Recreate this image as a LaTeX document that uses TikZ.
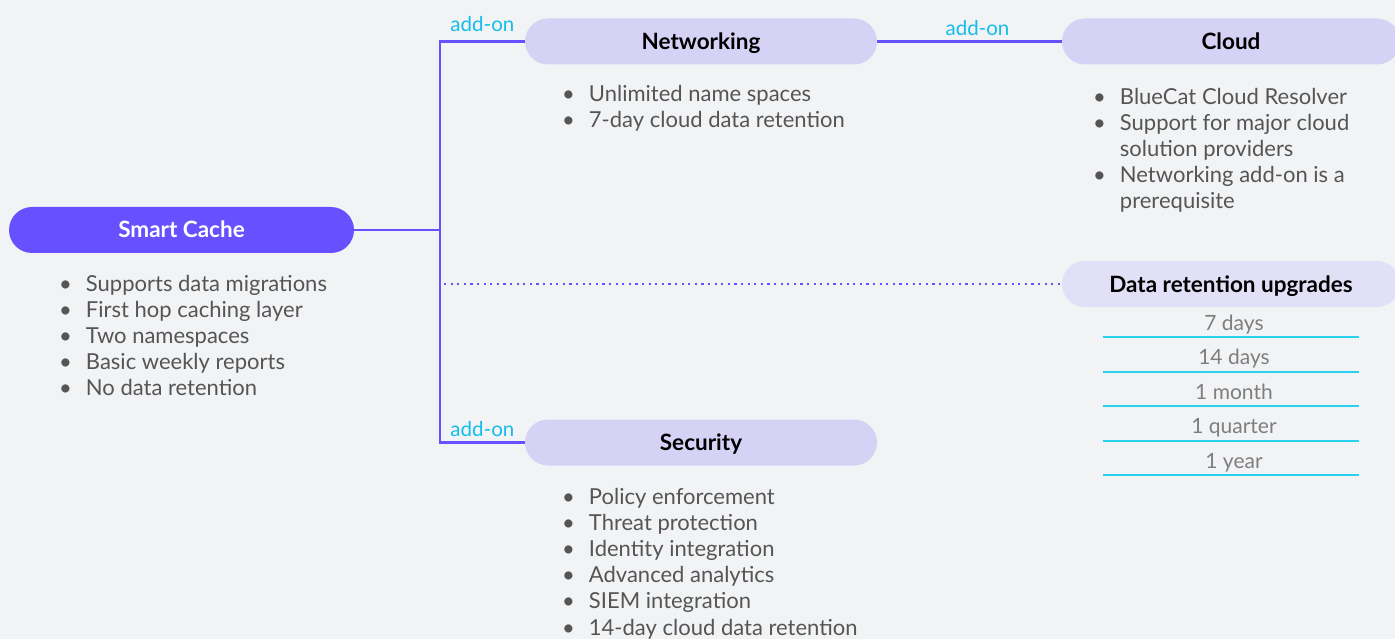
\documentclass[tikz,border=0pt]{standalone}
\usepackage{fontspec}
\setmainfont{Lato}
\usepackage{xcolor}
\definecolor{bgc}{HTML}{F2F3F5}
\definecolor{brand}{HTML}{6650FF}
\definecolor{lilac}{HTML}{D6D2F6}
\definecolor{lilacl}{HTML}{E2E0F6}
\definecolor{addonc}{HTML}{14BDEB}
\definecolor{txt}{HTML}{555555}
\definecolor{rowtxt}{HTML}{7E7E7E}
\definecolor{rowln}{HTML}{2AD0F0}
\newcommand\itm{\textbullet\hspace{14pt}}
\newcommand\itmc{\hphantom{\textbullet}\hspace{14pt}}

\begin{document}
\begin{tikzpicture}[x=1pt,y=-1pt,
  pill/.style={rectangle,rounded corners=23pt,minimum height=46pt,inner sep=0pt,text height=16pt,text depth=0pt,font=\bfseries\fontsize{22.5}{26}\selectfont},
  link/.style={draw=brand,line width=2.6pt},
  addon/.style={above,inner sep=5pt,text=addonc,font=\fontsize{20.5}{22}\selectfont},
  blist/.style={anchor=north west,inner sep=0pt,align=left,text=txt,font=\fontsize{22}{26.2}\selectfont},
  rowtext/.style={anchor=base,inner sep=0pt,text=rowtxt,font=\fontsize{21}{24}\selectfont},
  rowline/.style={draw=rowln,line width=2pt}]

\useasboundingbox (0,0) rectangle (1395,639);
\clip (0,0) rectangle (1395,639);
\fill[bgc] (0,0) rectangle (1395,639);

\node[pill,fill=brand,text=white,minimum width=345pt] (sc) at (181.5,230) {Smart Cache};
\node[pill,fill=lilac,minimum width=352pt] (net) at (701,41.5) {Networking};
\node[pill,fill=lilac,minimum width=338pt] (cloud) at (1231,41.5) {Cloud};
\node[pill,fill=lilac,minimum width=352pt] (sec) at (701,442.5) {Security};
\node[pill,fill=lilacl,minimum width=338pt] (dr) at (1231,284) {Data retention upgrades};

\coordinate (bus) at (440,230);
\coordinate (dots) at (444,284);

\draw[link] (sc.east) -- (bus);
\draw[link] (net.west) -| node[addon,pos=0.25,yshift=4pt] {add-on} (bus) |- node[addon,pos=0.75] {add-on} (sec.west);
\draw[link] (net.east) -- node[addon,xshift=8pt] {add-on} (cloud.west);
\draw[link,line width=2.2pt,dash pattern=on 2.2pt off 4.4pt] (dots) -- (dr.west);

\node[blist] (sclist) at (59,274.7) {\itm Supports data migrations\\ \itm First hop caching layer\\ \itm Two namespaces\\ \itm Basic weekly reports\\ \itm No data retention};
\node[blist] (netlist) at (562,84.7) {\itm Unlimited name spaces\\ \itm 7-day cloud data retention};
\node[blist] (cloudlist) at (1093,87.7) {\itm BlueCat Cloud Resolver\\ \itm Support for major cloud\\ \itmc solution providers\\ \itm Networking add-on is a\\ \itmc prerequisite};
\node[blist] (seclist) at (562,487.7) {\itm Policy enforcement\\ \itm Threat protection\\ \itm Identity integration\\ \itm Advanced analytics\\ \itm SIEM integration\\ \itm 14-day cloud data retention};

\foreach \t [count=\i] in {7 days,14 days,1 month,1 quarter,1 year}{
  \node[rowtext] (row\i) at (1234,{330+34.6*(\i-1)}) {\t};
  \draw[rowline] ([xshift=-131pt,yshift=-7pt]row\i.base) -- ([xshift=125pt,yshift=-7pt]row\i.base);
}
\end{tikzpicture}
\end{document}
